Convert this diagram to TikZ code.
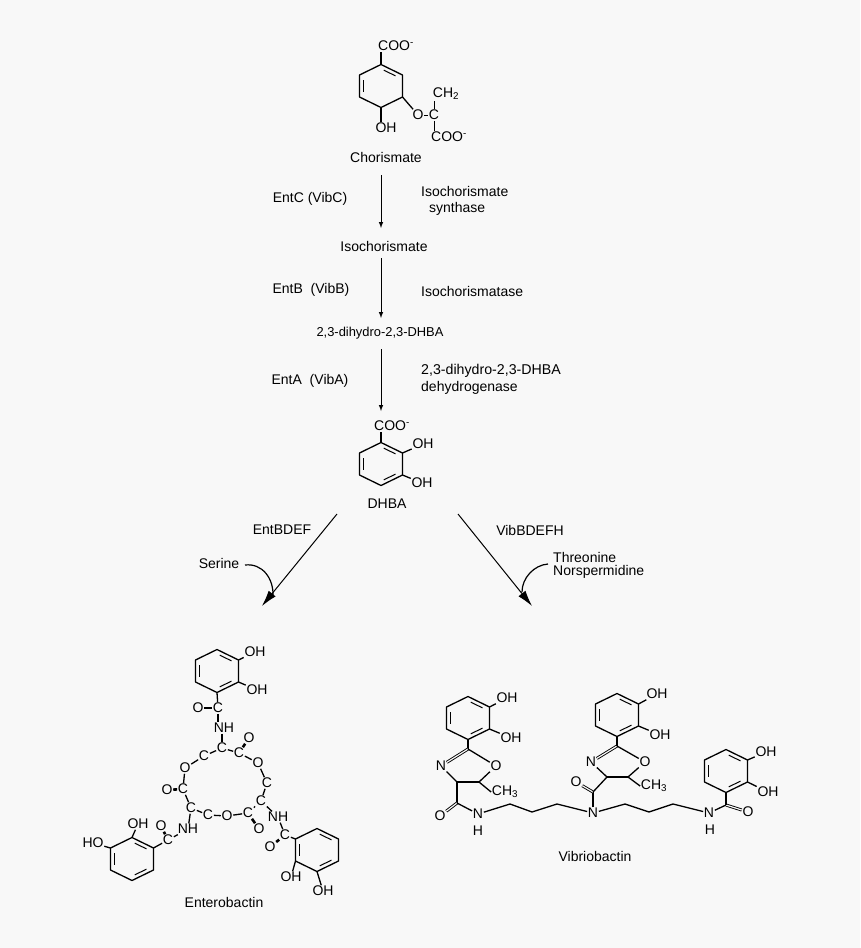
\documentclass[tikz,border=0pt]{standalone}
\usepackage{fontspec}
\setmainfont{Liberation Sans}
\usetikzlibrary{calc,arrows.meta}
\definecolor{paper}{HTML}{F8F8F8}
\tikzset{
  atom/.style={inner sep=0.6pt,font=\fontsize{14}{15}\selectfont},
  label/.style={inner sep=0pt,font=\fontsize{14}{16}\selectfont},
  bond/.style={line width=1.3pt},
  dblbond/.style={line width=0.9pt,double=paper,double distance=1.2pt},
  thickbond/.style={line width=2.6pt},
  stepline/.style={-latex,line width=1pt},
  bigarrow/.style={-{Latex[length=16pt,width=9pt]},line width=1pt},
  sidearrow/.style={line width=1.2pt}
}
% six ring: name, centre x, centre y
\newcommand{\sixring}[3]{
  \coordinate (#1c) at (#2,#3);
  \coordinate (#1t) at (#2,#3-21.5);
  \coordinate (#1ur) at (#2+21.5,#3-11);
  \coordinate (#1lr) at (#2+21.5,#3+11);
  \coordinate (#1b) at (#2,#3+21.5);
  \coordinate (#1ll) at (#2-21.5,#3+11);
  \coordinate (#1ul) at (#2-21.5,#3-11);
  \draw[bond,line join=round] (#1t) -- (#1ur) -- (#1lr) -- (#1b) -- (#1ll) -- (#1ul) -- cycle;
}
\newcommand{\inner}[3]{\draw[line width=1pt] ($(#1)!.16!(#2)!.2!(#3)$) -- ($(#2)!.16!(#1)!.2!(#3)$);}
\newcommand{\threeinner}[1]{\inner{#1t}{#1ur}{#1c}\inner{#1lr}{#1b}{#1c}\inner{#1ll}{#1ul}{#1c}}
\begin{document}
\begin{tikzpicture}[x=1pt,y=-1pt]
\useasboundingbox (0,0) rectangle (860,948);
\fill[paper] (0,0) rectangle (860,948);

% chorismate
\sixring{ch}{381}{86}
\inner{cht}{chur}{chc}
\inner{chll}{chul}{chc}
\node[atom] (chcoo) at (396,46) {COO\textsuperscript{-}};
\node[atom] (choh) at (386,128) {OH};
\node[atom] (cho) at (418,115) {O};
\node[atom] (chcc) at (434,115) {C};
\node[atom] (chch) at (446,94) {CH\textsubscript{2}};
\node[atom] (chcoob) at (449,137) {COO\textsuperscript{-}};
\draw[bond] (cht) -- (chcoo.south -| cht);
\draw[bond] (chb) -- (choh.north -| chb);
\draw[bond] (chlr) -- (cho);
\draw[line width=1pt] (cho) -- (chcc);
\draw[line width=1pt] (chcc) -- (chch.south -| chcc);
\draw[line width=1pt] (chcc) -- (chcoob.north -| chcc);
\node[label] (chorismate) at (386,157) {Chorismate};

% pathway down to DHBA
\coordinate (as1) at (381,175);
\coordinate (ae1) at (381,228);
\coordinate (as2) at (381,258);
\coordinate (ae2) at (381,318);
\coordinate (as3) at (381,349);
\coordinate (ae3) at (381,411);
\draw[stepline] (as1) -- (ae1);
\draw[stepline] (as2) -- (ae2);
\draw[stepline] (as3) -- (ae3);
\node[label] (entc) at (310,199) {EntC (VibC)};
\node[label,anchor=west] (isosyn) at (421,191) {Isochorismate};
\node[label,anchor=west] (syn) at (429,209) {synthase};
\node[label] (isoch) at (384,246) {Isochorismate};
\node[label] (entb) at (311,290) {EntB\ \ (VibB)};
\node[label,anchor=west] (isoase) at (421,291) {Isochorismatase};
\node[label,font=\fontsize{12.9}{16}\selectfont] (dihydro) at (380,333) {2,3-dihydro-2,3-DHBA};
\node[label] (enta) at (310,381) {EntA\ \ (VibA)};
\node[label,anchor=west,font=\fontsize{14.2}{16}\selectfont] (dehyd) at (421,371) {2,3-dihydro-2,3-DHBA};
\node[label,anchor=west] (dehydb) at (421,388) {dehydrogenase};

% DHBA
\sixring{dh}{381}{464}
\threeinner{dh}
\node[atom] (dhcoo) at (392,426) {COO\textsuperscript{-}};
\node[atom] (dhoha) at (423,444) {OH};
\node[atom] (dhohb) at (422,483) {OH};
\node[label] (dhba) at (387,504) {DHBA};
\draw[bond] (dht) -- (dhcoo.south -| dht);
\draw[bond] (dhur) -- (dhoha);
\draw[bond] (dhlr) -- (dhohb);

% branches
\coordinate (ls) at (337,514);
\coordinate (le) at (262,606);
\coordinate (rs) at (458,514);
\coordinate (re) at (532,606);
\coordinate (lj) at (273,597);
\coordinate (rj) at (522,592);
\draw[bigarrow] (ls) -- (le);
\draw[bigarrow] (rs) -- (re);
\node[label] (entbdef) at (282,530) {EntBDEF};
\node[label] (vibbdefh) at (530,530) {VibBDEFH};
\node[label] (serine) at (219,563) {Serine};
\node[label,anchor=west] (thr) at (553,557) {Threonine};
\node[label,anchor=west] (nor) at (553,572) {Norspermidine};
\draw[sidearrow] (245,565) .. controls (262,563) and (274,578) .. (lj);
\draw[sidearrow] (548,564) .. controls (534,565) and (522,578) .. (rj);

% enterobactin
\sixring{ea}{217}{671}
\threeinner{ea}
\sixring{eb}{132}{859}
\threeinner{eb}
\sixring{ec}{317}{850}
\threeinner{ec}
\node[atom] (eoha) at (255,652) {OH};
\node[atom] (eohb) at (257,690) {OH};
\node[atom] (ecoa) at (218,708) {C};
\node[atom] (eoa) at (198,708) {O};
\node[atom] (enha) at (224,728) {NH};
\node[atom] (ec1) at (222,748) {C};
\node[atom] (ec2) at (239,753) {C};
\node[atom] (eo2) at (249,738) {O};
\node[atom] (eo3) at (258,763) {O};
\node[atom] (ec4) at (267,783) {C};
\node[atom] (ec5) at (261,801) {C};
\node[atom] (enhb) at (278,817) {NH};
\node[atom] (ecob) at (285,835) {C};
\node[atom] (eob) at (270,847) {O};
\node[atom] (ec6) at (248,813) {C};
\node[atom] (eo6) at (259,829) {O};
\node[atom] (eo7) at (227,816) {O};
\node[atom] (ec8) at (208,815) {C};
\node[atom] (ec9) at (191,808) {C};
\node[atom] (ec10) at (183,789) {C};
\node[atom] (eo10) at (167,790) {O};
\node[atom] (eo11) at (185,768) {O};
\node[atom] (ec12) at (204,756) {C};
\node[atom] (enhc) at (188,829) {NH};
\node[atom] (ecoc) at (168,840) {C};
\node[atom] (eoc) at (161,826) {O};
\node[atom] (eohc) at (138,824) {OH};
\node[atom] (eohd) at (93,843) {HO};
\node[atom] (eohe) at (291,877) {OH};
\node[atom] (eohf) at (323,891) {OH};
\node[label] (enterobactin) at (224,902) {Enterobactin};
\draw[bond] (eaur) -- (eoha);
\draw[bond] (ealr) -- (eohb);
\draw[bond] (eab) -- (ecoa);
\draw[thickbond] (ecoa) -- (eoa);
\draw[bond] (ecoa) -- (enha.north -| ecoa);
\draw[bond] (enha.south -| ec1) -- (ec1);
\draw[bond] (ec1) -- (ec2);
\draw[thickbond] (ec2) -- (eo2);
\draw[bond] (ec2) -- (eo3);
\draw[bond] (eo3) -- (ec4);
\draw[bond] (ec4) -- (ec5);
\draw[bond] (ec5) -- (enhb);
\draw[bond] (enhb) -- (ecob);
\draw[thickbond] (ecob) -- (eob);
\draw[bond] (ecob) -- (ecul);
\draw[bond] (ec5) -- (ec6);
\draw[thickbond] (ec6) -- (eo6);
\draw[bond] (ec6) -- (eo7);
\draw[bond] (eo7) -- (ec8);
\draw[bond] (ec8) -- (ec9);
\draw[bond] (ec9) -- (ec10);
\draw[thickbond] (ec10) -- (eo10);
\draw[bond] (ec10) -- (eo11);
\draw[bond] (eo11) -- (ec12);
\draw[bond] (ec12) -- (ec1);
\draw[bond] (ec9) -- (enhc);
\draw[bond] (enhc) -- (ecoc);
\draw[thickbond] (ecoc) -- (eoc);
\draw[bond] (ecoc) -- (ebur);
\draw[bond] (ebt) -- (eohc);
\draw[bond] (ebul) -- (eohd);
\draw[bond] (ecll) -- (eohe);
\draw[bond] (ecb) -- (eohf);

% vibriobactin
\sixring{va}{468}{718}
\threeinner{va}
\sixring{vb}{617}{715}
\threeinner{vb}
\sixring{vc}{726}{771}
\threeinner{vc}
\node[atom] (voha) at (507,698) {OH};
\node[atom] (vohb) at (511,738) {OH};
\coordinate (vc2) at (468,749);
\node[atom] (vn3) at (441,766) {N};
\node[atom] (vo1) at (496,766) {O};
\coordinate (vc4) at (457,782);
\coordinate (vc5) at (479,782);
\node[atom] (vmea) at (505,792) {CH\textsubscript{3}};
\coordinate (vco) at (457,803);
\node[atom] (voa) at (440,816) {O};
\node[atom] (vna) at (478,814) {N};
\node[atom] (vha) at (478,831) {H};
\coordinate (vp1) at (510,804);
\coordinate (vp2) at (532,812);
\coordinate (vp3) at (557,804);
\node[atom] (vnb) at (593,813) {N};
\coordinate (vcob) at (593,792);
\node[atom] (vob) at (576,782) {O};
\coordinate (vc4b) at (607,777);
\node[atom] (vn3b) at (591,762) {N};
\coordinate (vc2b) at (617,746);
\node[atom] (vo1b) at (645,762) {O};
\coordinate (vc5b) at (628,777);
\node[atom] (vmeb) at (654,786) {CH\textsubscript{3}};
\node[atom] (vohc) at (657,694) {OH};
\node[atom] (vohd) at (660,735) {OH};
\coordinate (vq1) at (625,804);
\coordinate (vq2) at (649,812);
\coordinate (vq3) at (673,804);
\node[atom] (vnc) at (709,813) {N};
\node[atom] (vhc) at (710,830) {H};
\coordinate (vcoc) at (726,805);
\node[atom] (voc) at (748,812) {O};
\node[atom] (vohe) at (766,752) {OH};
\node[atom] (vohf) at (768,792) {OH};
\node[label] (vibriobactin) at (595,856) {Vibriobactin};
\draw[bond] (vaur) -- (voha);
\draw[bond] (valr) -- (vohb);
\draw[bond] (vab) -- (vc2);
\draw[dblbond] (vc2) -- (vn3);
\draw[bond] (vc2) -- (vo1);
\draw[bond] (vn3) -- (vc4);
\draw[bond] (vc4) -- (vc5);
\draw[bond] (vc5) -- (vo1);
\draw[bond] (vc5) -- (vmea.west);
\draw[bond] (vc4) -- (vco);
\draw[dblbond] (vco) -- (voa);
\draw[bond] (vco) -- (vna);
\draw[bond] (vna) -- (vp1) -- (vp2) -- (vp3) -- (vnb);
\draw[bond] (vnb) -- (vcob);
\draw[dblbond] (vcob) -- (vob);
\draw[bond] (vcob) -- (vc4b);
\draw[bond] (vc4b) -- (vn3b);
\draw[dblbond] (vn3b) -- (vc2b);
\draw[bond] (vc2b) -- (vo1b);
\draw[bond] (vc2b) -- (vbb);
\draw[bond] (vc4b) -- (vc5b);
\draw[bond] (vc5b) -- (vo1b);
\draw[bond] (vc5b) -- (vmeb.west);
\draw[bond] (vbur) -- (vohc);
\draw[bond] (vblr) -- (vohd);
\draw[bond] (vnb) -- (vq1) -- (vq2) -- (vq3) -- (vnc);
\draw[bond] (vnc) -- (vcoc);
\draw[dblbond] (vcoc) -- (voc);
\draw[bond] (vcoc) -- (vcb);
\draw[bond] (vcur) -- (vohe);
\draw[bond] (vclr) -- (vohf);
\end{tikzpicture}
\end{document}
